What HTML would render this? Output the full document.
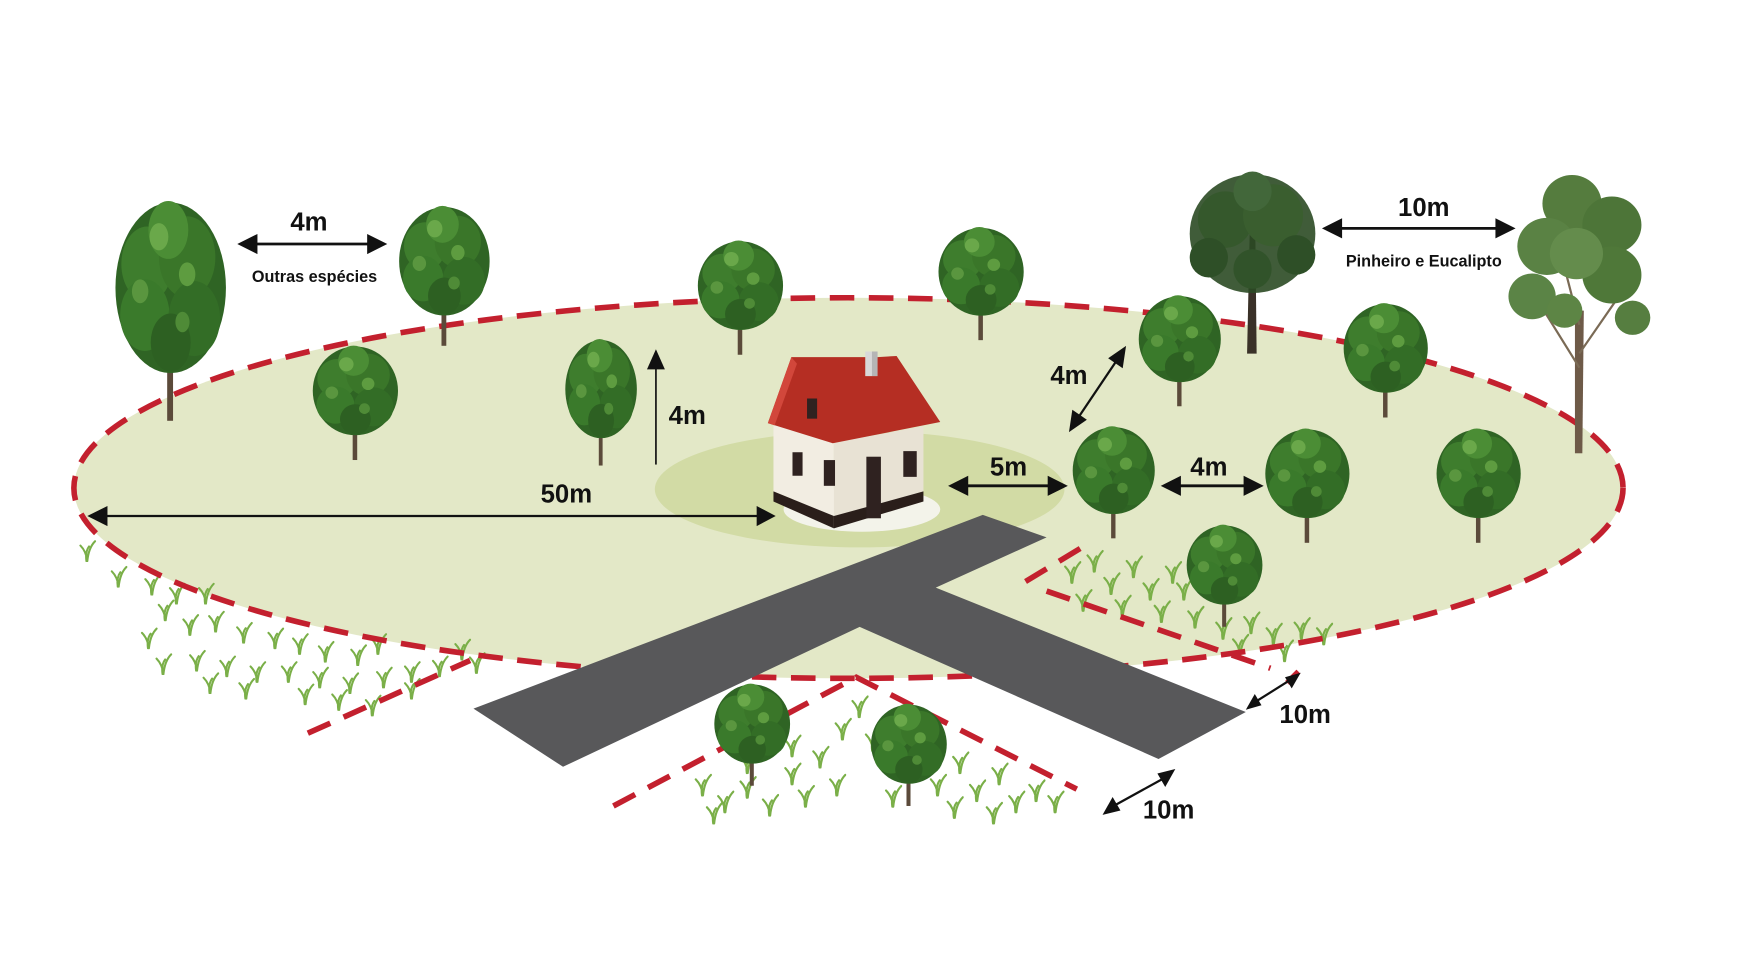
<!DOCTYPE html>
<html><head><meta charset="utf-8">
<style>
html,body{margin:0;padding:0;background:#fff;}
svg{display:block;}
text{font-family:"Liberation Sans",sans-serif;font-weight:bold;fill:#111;}
</style></head>
<body>
<svg width="1754" height="975" viewBox="0 0 1567 871" preserveAspectRatio="none" xmlns="http://www.w3.org/2000/svg">
<defs>
<symbol id="t" viewBox="0 0 100 130" preserveAspectRatio="none">
<rect x="47" y="80" width="5" height="50" fill="#5b4a3a"/>
<ellipse cx="50" cy="52" rx="47" ry="50" fill="#2f6424"/>
<circle cx="30" cy="38" r="22" fill="#3e7d2d"/>
<circle cx="64" cy="34" r="24" fill="#3a7629"/>
<circle cx="48" cy="18" r="17" fill="#4b8d35"/>
<circle cx="28" cy="68" r="21" fill="#3a7a2b"/>
<circle cx="70" cy="70" r="22" fill="#336d26"/>
<circle cx="50" cy="84" r="17" fill="#2d6022"/>
<circle cx="40" cy="22" r="8" fill="#6aa84a"/>
<circle cx="64" cy="44" r="7" fill="#5e9c40"/>
<circle cx="24" cy="54" r="7" fill="#5a963f"/>
<circle cx="60" cy="72" r="6" fill="#4f8b37"/>
</symbol>
<symbol id="pine" viewBox="0 0 100 130" preserveAspectRatio="none">
<path d="M48 40 L46 130 L53 130 L52 40 Z" fill="#3a3128"/>
<ellipse cx="50" cy="45" rx="46" ry="42" fill="#2b4a24" opacity="0.9"/>
<circle cx="30" cy="35" r="20" fill="#35582c"/>
<circle cx="65" cy="32" r="22" fill="#3a5e2f"/>
<circle cx="50" cy="15" r="14" fill="#42673a"/>
<circle cx="18" cy="62" r="14" fill="#2e4f27"/>
<circle cx="82" cy="60" r="14" fill="#2e4f27"/>
<circle cx="50" cy="70" r="14" fill="#31532a"/>
</symbol>
<symbol id="euc" viewBox="0 0 100 200" preserveAspectRatio="none">
<path d="M47 100 L47 200 L52 200 L53 100 Z" fill="#6e5a48"/>
<path d="M50 140 L20 90 M50 130 L80 85 M50 110 L35 50" stroke="#7a6a55" stroke-width="1.5" fill="none"/>
<circle cx="45" cy="25" r="20" fill="#557c3e"/>
<circle cx="72" cy="40" r="20" fill="#4d7538"/>
<circle cx="28" cy="55" r="20" fill="#5a8244"/>
<circle cx="72" cy="75" r="20" fill="#4f7839"/>
<circle cx="18" cy="90" r="16" fill="#5b8446"/>
<circle cx="48" cy="60" r="18" fill="#648c4c"/>
<circle cx="86" cy="105" r="12" fill="#567e40"/>
<circle cx="40" cy="100" r="12" fill="#5d8545"/>
</symbol>
<symbol id="g" viewBox="0 0 20 26">
<path d="M10 25 C9 16 6 11 2 7 M10 25 C11 15 14 7 19 2 M9 25 C8 18 9 12 12 8" stroke="#7aaf48" stroke-width="2.4" fill="none" stroke-linecap="round"/>
</symbol>
</defs>

<ellipse cx="758" cy="436" rx="692" ry="170" fill="#e3e8c7"/>
<ellipse cx="768" cy="437" rx="183" ry="52" fill="#d2dba5"/>

<g>
<use href="#g" x="70" y="482" width="16" height="20"/><use href="#g" x="98" y="505" width="16" height="20"/>
<use href="#g" x="128" y="512" width="16" height="20"/><use href="#g" x="150" y="520" width="16" height="20"/>
<use href="#g" x="176" y="520" width="16" height="20"/><use href="#g" x="140" y="535" width="16" height="20"/>
<use href="#g" x="162" y="548" width="16" height="20"/><use href="#g" x="125" y="560" width="16" height="20"/>
<use href="#g" x="185" y="545" width="16" height="20"/><use href="#g" x="210" y="555" width="16" height="20"/>
<use href="#g" x="238" y="560" width="16" height="20"/><use href="#g" x="260" y="565" width="16" height="20"/>
<use href="#g" x="283" y="572" width="16" height="20"/><use href="#g" x="312" y="575" width="16" height="20"/>
<use href="#g" x="138" y="583" width="16" height="20"/><use href="#g" x="168" y="580" width="16" height="20"/>
<use href="#g" x="195" y="585" width="16" height="20"/><use href="#g" x="222" y="590" width="16" height="20"/>
<use href="#g" x="250" y="590" width="16" height="20"/><use href="#g" x="278" y="595" width="16" height="20"/>
<use href="#g" x="305" y="600" width="16" height="20"/><use href="#g" x="335" y="595" width="16" height="20"/>
<use href="#g" x="360" y="590" width="16" height="20"/><use href="#g" x="385" y="585" width="16" height="20"/>
<use href="#g" x="405" y="570" width="16" height="20"/><use href="#g" x="418" y="582" width="16" height="20"/>
<use href="#g" x="180" y="600" width="16" height="20"/><use href="#g" x="212" y="605" width="16" height="20"/>
<use href="#g" x="330" y="565" width="16" height="20"/><use href="#g" x="295" y="615" width="16" height="20"/>
<use href="#g" x="360" y="605" width="16" height="20"/><use href="#g" x="265" y="610" width="16" height="20"/>
<use href="#g" x="325" y="620" width="16" height="20"/>
<use href="#g" x="620" y="690" width="16" height="22"/><use href="#g" x="640" y="705" width="16" height="22"/>
<use href="#g" x="660" y="692" width="16" height="22"/><use href="#g" x="680" y="708" width="16" height="22"/>
<use href="#g" x="700" y="680" width="16" height="22"/><use href="#g" x="712" y="700" width="16" height="22"/>
<use href="#g" x="725" y="665" width="16" height="22"/><use href="#g" x="740" y="690" width="16" height="22"/>
<use href="#g" x="745" y="640" width="16" height="22"/><use href="#g" x="760" y="620" width="16" height="22"/>
<use href="#g" x="772" y="650" width="16" height="22"/><use href="#g" x="790" y="700" width="16" height="22"/>
<use href="#g" x="830" y="690" width="16" height="22"/><use href="#g" x="850" y="670" width="16" height="22"/>
<use href="#g" x="865" y="695" width="16" height="22"/><use href="#g" x="885" y="680" width="16" height="22"/>
<use href="#g" x="900" y="705" width="16" height="22"/><use href="#g" x="918" y="695" width="16" height="22"/>
<use href="#g" x="935" y="705" width="16" height="22"/><use href="#g" x="880" y="715" width="16" height="22"/>
<use href="#g" x="845" y="710" width="16" height="22"/><use href="#g" x="660" y="670" width="16" height="22"/>
<use href="#g" x="700" y="655" width="16" height="22"/><use href="#g" x="630" y="715" width="16" height="22"/>
<use href="#g" x="950" y="500" width="16" height="22"/><use href="#g" x="970" y="490" width="16" height="22"/>
<use href="#g" x="985" y="510" width="16" height="22"/><use href="#g" x="1005" y="495" width="16" height="22"/>
<use href="#g" x="1020" y="515" width="16" height="22"/><use href="#g" x="1040" y="500" width="16" height="22"/>
<use href="#g" x="960" y="525" width="16" height="22"/><use href="#g" x="995" y="530" width="16" height="22"/>
<use href="#g" x="1030" y="535" width="16" height="22"/><use href="#g" x="1060" y="540" width="16" height="22"/>
<use href="#g" x="1085" y="550" width="16" height="22"/><use href="#g" x="1110" y="545" width="16" height="22"/>
<use href="#g" x="1130" y="555" width="16" height="22"/><use href="#g" x="1155" y="550" width="16" height="22"/>
<use href="#g" x="1175" y="555" width="16" height="22"/><use href="#g" x="1100" y="565" width="16" height="22"/>
<use href="#g" x="1140" y="570" width="16" height="22"/><use href="#g" x="1050" y="515" width="16" height="22"/>
</g>

<ellipse cx="758" cy="436" rx="692" ry="170" fill="none" stroke="#c3202e" stroke-width="5" stroke-dasharray="22 13"/>
<g stroke="#c3202e" stroke-width="5" stroke-dasharray="22 13" fill="none">
<path d="M275 655 L420 590"/>
<path d="M548 720 L765 605 L962 705"/>
<path d="M965 490 L912 522"/>
<path d="M935 528 L1135 597"/>
<path d="M1160 600 L1150 610"/>
</g>

<polygon points="878,460 935,480 836,525 1113,636 1035,678 768,560 503,685 423,633" fill="#58585a"/>

<ellipse cx="770" cy="455" rx="70" ry="20" fill="#f3f3ea"/>
<polygon points="691,381 707,334 745,395 745,461 691,439" fill="#f2ede2"/>
<polygon points="745,395 825,381 825,439 745,461" fill="#e8e2d4"/>
<polygon points="691,439 745,461 745,472 691,448" fill="#2a1e1a"/>
<polygon points="745,461 825,439 825,448 745,472" fill="#2a1e1a"/>
<rect x="773" y="314" width="11" height="22" fill="#d8d8d8"/>
<rect x="779" y="314" width="5" height="22" fill="#b5b5b5"/>
<polygon points="686,378 707,319 773,319 773,336 784,336 784,319 801,318 840,377 744,396" fill="#b52e23"/>
<polygon points="686,378 707,319 712,325 692,380" fill="#d2473b"/>
<rect x="721" y="356" width="9" height="18" fill="#2f2220"/>
<rect x="708" y="404" width="9" height="21" fill="#2f2220"/>
<rect x="736" y="411" width="10" height="23" fill="#2f2220"/>
<rect x="774" y="408" width="13" height="55" fill="#2f2220"/>
<rect x="807" y="403" width="12" height="23" fill="#2f2220"/>

<use href="#t" x="100" y="178" width="105" height="198"/>
<use href="#t" x="354" y="183" width="86" height="126"/>
<use href="#t" x="277" y="308" width="81" height="103"/>
<use href="#t" x="503" y="302" width="68" height="114"/>
<use href="#t" x="621" y="214" width="81" height="103"/>
<use href="#t" x="836" y="202" width="81" height="102"/>
<use href="#pine" x="1058" y="152" width="122" height="164"/>
<use href="#euc" x="1345" y="150" width="132" height="255"/>
<use href="#t" x="1015" y="263" width="78" height="100"/>
<use href="#t" x="1198" y="270" width="80" height="103"/>
<use href="#t" x="956" y="380" width="78" height="101"/>
<use href="#t" x="1128" y="382" width="80" height="103"/>
<use href="#t" x="1281" y="382" width="80" height="103"/>
<use href="#t" x="1058" y="468" width="72" height="92"/>
<use href="#t" x="636" y="610" width="72" height="92"/>
<use href="#t" x="776" y="628" width="72" height="92"/>

<g stroke="#111" fill="#111">
<line x1="225" y1="218" x2="333" y2="218" stroke-width="2.5"/>
<polygon points="212,218 230,209 230,227" stroke="none"/><polygon points="346,218 328,209 328,227" stroke="none"/>
<line x1="1195" y1="204" x2="1340" y2="204" stroke-width="2.5"/>
<polygon points="1181,204 1199,195 1199,213" stroke="none"/><polygon points="1354,204 1336,195 1336,213" stroke="none"/>
<line x1="586" y1="415" x2="586" y2="325" stroke-width="1.5"/>
<polygon points="586,312 578,330 594,330" stroke="none"/>
<line x1="92" y1="461" x2="680" y2="461" stroke-width="2"/>
<polygon points="78,461 96,452 96,470" stroke="none"/><polygon points="693,461 676,452 676,470" stroke="none"/>
<line x1="860" y1="434" x2="942" y2="434" stroke-width="2.5"/>
<polygon points="847,434 865,425 865,443" stroke="none"/><polygon points="954,434 936,425 936,443" stroke="none"/>
<line x1="1050" y1="434" x2="1116" y2="434" stroke-width="2.5"/>
<polygon points="1037,434 1055,425 1055,443" stroke="none"/><polygon points="1129,434 1111,425 1111,443" stroke="none"/>
<line x1="962" y1="375" x2="999" y2="320" stroke-width="2"/>
<polygon points="955,386 958,366 971,375" stroke="none"/><polygon points="1006,309 1003,329 990,320" stroke="none"/>
<line x1="1120" y1="628" x2="1155" y2="606" stroke-width="2"/>
<polygon points="1113,634 1121,620 1127,630" stroke="none"/><polygon points="1162,601 1154,615 1148,605" stroke="none"/>
<line x1="993" y1="721" x2="1042" y2="694" stroke-width="2"/>
<polygon points="985,728 994,712 1001,724" stroke="none"/><polygon points="1050,687 1041,703 1034,691" stroke="none"/>
</g>

<text x="276" y="206" font-size="23" text-anchor="middle">4m</text>
<text x="281" y="252" font-size="14.5" text-anchor="middle">Outras espécies</text>
<text x="1272" y="193" font-size="23" text-anchor="middle">10m</text>
<text x="1272" y="238" font-size="14.5" text-anchor="middle">Pinheiro e Eucalipto</text>
<text x="614" y="379" font-size="23" text-anchor="middle">4m</text>
<text x="506" y="449" font-size="23" text-anchor="middle">50m</text>
<text x="901" y="425" font-size="23" text-anchor="middle">5m</text>
<text x="1080" y="425" font-size="23" text-anchor="middle">4m</text>
<text x="955" y="343" font-size="23" text-anchor="middle">4m</text>
<text x="1166" y="646" font-size="23" text-anchor="middle">10m</text>
<text x="1044" y="731" font-size="23" text-anchor="middle">10m</text>
</svg>
</body></html>
